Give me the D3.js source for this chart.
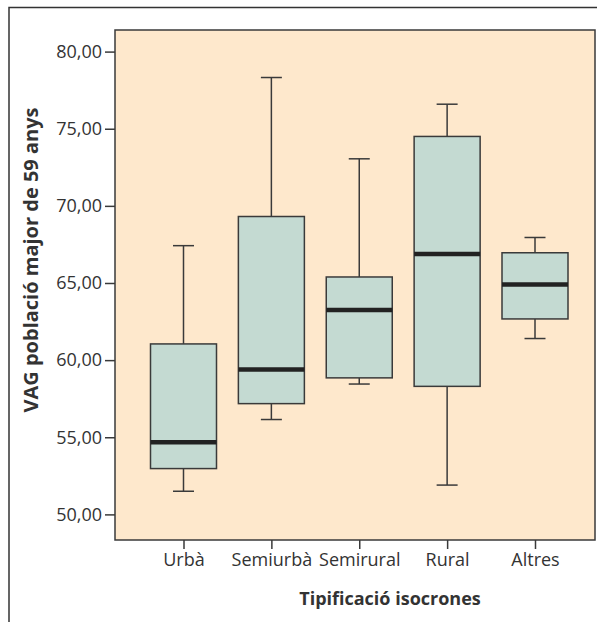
<!DOCTYPE html>
<html>
<head>
<meta charset="utf-8">
<script src="https://cdn.jsdelivr.net/npm/d3@7"></script>
<style>
  html, body { margin: 0; padding: 0; background: #fff; }
  svg { display: block; font-family: 'Open Sans', sans-serif; }
</style>
</head>
<body>
<div id="chart"></div>
<script>
// Boxplot: VAG població major de 59 anys per tipificació d'isòcrones
const categories = ['Urbà', 'Semiurbà', 'Semirural', 'Rural', 'Altres'];
const whiskerLow  = [51.50, 56.15, 58.45, 51.90, 61.40];
const q1          = [52.97, 57.18, 58.85, 58.30, 62.67];
const medians     = [54.68, 59.40, 63.25, 66.88, 64.90];
const q3          = [61.05, 69.31, 65.39, 74.50, 66.96];
const whiskerHigh = [67.42, 78.32, 73.05, 76.59, 67.95];
const yTicks = [50, 55, 60, 65, 70, 75, 80];

const width = 597, height = 622;
const margin = { top: 30, right: 2, bottom: 82, left: 115 };
const innerW = width - margin.left - margin.right;
const innerH = height - margin.top - margin.bottom;

const lineColor = '#3a3a3a';

const svg = d3.select('#chart')
    .append('svg')
    .attr('width', width)
    .attr('height', height);

// marc exterior
svg.append('path')
    .attr('d', `M9,${height} V7.5 H${width}`)
    .attr('fill', 'none')
    .attr('stroke', '#333')
    .attr('stroke-width', 1.5);

const g = svg.append('g').attr('transform', `translate(${margin.left},${margin.top})`);

const y = d3.scaleLinear().domain([48.34, 81.4]).range([innerH, 0]);
const x = d3.scalePoint().domain(categories).range([68.5, 420]);

// fons
g.append('rect')
    .attr('width', innerW)
    .attr('height', innerH)
    .attr('fill', '#fee8cc')
    .attr('stroke', lineColor)
    .attr('stroke-width', 1.5);

const locale = d3.formatLocale({ decimal: ',', thousands: '.', grouping: [3], currency: ['', '€'] });
const fmt = locale.format('.2f');

// eix Y
const yAxis = g.append('g')
    .call(d3.axisLeft(y).tickValues(yTicks).tickFormat(fmt).tickSize(10).tickPadding(3));
yAxis.select('.domain').remove();
yAxis.selectAll('line').attr('stroke', lineColor).attr('stroke-width', 1.5);
yAxis.selectAll('text')
    .attr('fill', '#333')
    .attr('font-size', '18px')
    .attr('font-family', "'Open Sans', sans-serif");

// eix X
const xAxis = g.append('g')
    .attr('transform', `translate(0,${innerH})`)
    .call(d3.axisBottom(x).tickSize(9).tickPadding(4));
xAxis.select('.domain').remove();
xAxis.selectAll('line').attr('stroke', lineColor).attr('stroke-width', 1.5);
xAxis.selectAll('text')
    .attr('fill', '#333')
    .attr('font-size', '18px')
    .attr('font-family', "'Open Sans', sans-serif");

// caixes
const boxW = 66, capW = 21;
const boxes = categories.map((c, i) => ({
    cat: c, lo: whiskerLow[i], q1: q1[i], med: medians[i], q3: q3[i], hi: whiskerHigh[i]
}));

const box = g.selectAll('.box')
    .data(boxes)
    .enter().append('g')
    .attr('class', 'box')
    .attr('transform', d => `translate(${x(d.cat)},0)`);

// bigotis
box.append('line')
    .attr('x1', 0).attr('x2', 0)
    .attr('y1', d => y(d.hi)).attr('y2', d => y(d.q3))
    .attr('stroke', lineColor).attr('stroke-width', 1.5);
box.append('line')
    .attr('x1', 0).attr('x2', 0)
    .attr('y1', d => y(d.q1)).attr('y2', d => y(d.lo))
    .attr('stroke', lineColor).attr('stroke-width', 1.5);
box.append('line')
    .attr('x1', -capW / 2).attr('x2', capW / 2)
    .attr('y1', d => y(d.hi)).attr('y2', d => y(d.hi))
    .attr('stroke', lineColor).attr('stroke-width', 1.5);
box.append('line')
    .attr('x1', -capW / 2).attr('x2', capW / 2)
    .attr('y1', d => y(d.lo)).attr('y2', d => y(d.lo))
    .attr('stroke', lineColor).attr('stroke-width', 1.5);

box.append('rect')
    .attr('x', -boxW / 2)
    .attr('width', boxW)
    .attr('y', d => y(d.q3))
    .attr('height', d => y(d.q1) - y(d.q3))
    .attr('fill', '#c4dad2')
    .attr('stroke', lineColor)
    .attr('stroke-width', 1.5);

// mediana
box.append('line')
    .attr('x1', -boxW / 2).attr('x2', boxW / 2)
    .attr('y1', d => y(d.med)).attr('y2', d => y(d.med))
    .attr('stroke', '#222')
    .attr('stroke-width', 4.5);

// títols
svg.append('text')
    .attr('x', margin.left + 275)
    .attr('y', 605)
    .attr('text-anchor', 'middle')
    .attr('fill', '#333')
    .attr('font-size', '18px')
    .attr('font-weight', '700')
    .text('Tipificació isocrones');

svg.append('text')
    .attr('transform', `translate(38,${260}) rotate(-90)`)
    .attr('text-anchor', 'middle')
    .attr('fill', '#333')
    .attr('font-size', '20px')
    .attr('font-weight', '700')
    .text('VAG població major de 59 anys');
</script>
</body>
</html>
